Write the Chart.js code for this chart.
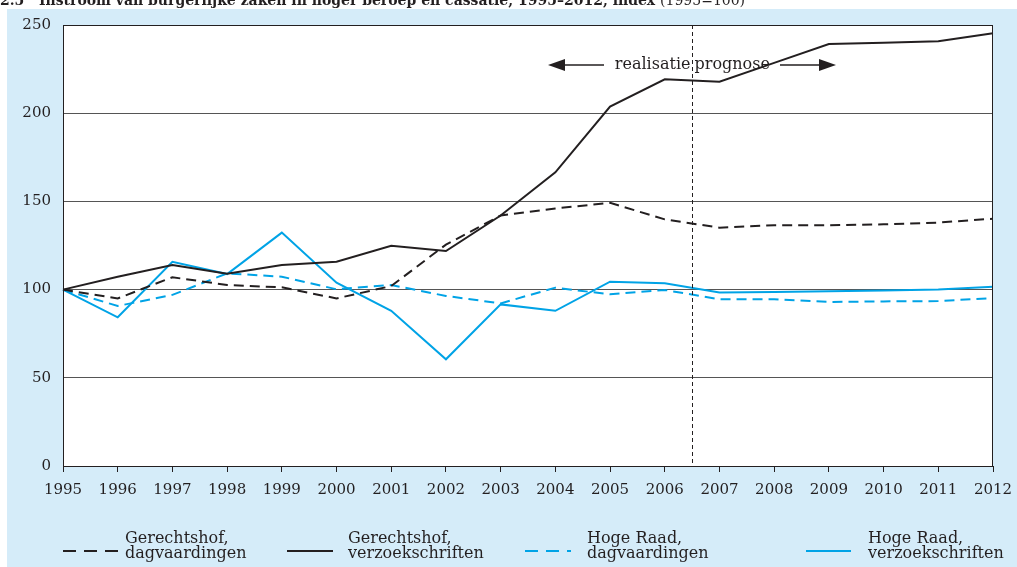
<!DOCTYPE html>
<html><head><meta charset="utf-8">
<script src="https://cdn.jsdelivr.net/npm/chart.js@4/dist/chart.umd.min.js"></script>
<style>html,body{margin:0;padding:0;background:#fff;}#wrap{width:1017px;height:567px;}</style>
</head><body><div id="wrap"><canvas id="c" width="1017" height="567"></canvas></div>
<script>
const years = ['1995','1996','1997','1998','1999','2000','2001','2002','2003','2004','2005','2006','2007','2008','2009','2010','2011','2012'];
const ghDagvaardingen = [100,95,107,102.6,101.3,95,102,125.5,142,146,149.2,139.8,135.1,136.5,136.5,137,138,140.2];
const ghVerzoekschriften = [100,107.3,114,109,114,115.8,124.9,121.9,142,166.5,203.7,219.2,217.9,228.5,239.2,240,240.8,245.3];
const hrDagvaardingen = [100,90.7,97,109.2,107.3,100.2,102.6,96.4,92.2,101.1,97.3,99.8,94.5,94.5,93,93.3,93.5,95.2];
const hrVerzoekschriften = [100,84.3,115.8,108.8,132.3,103.9,88,60.5,91.6,88,104.5,103.6,98.3,98.7,99,99.5,100,101.6];
const seriesLabels = [['Gerechtshof,','dagvaardingen'],['Gerechtshof,','verzoekschriften'],['Hoge Raad,','dagvaardingen'],['Hoge Raad,','verzoekschriften']];
const yTicks = [0,50,100,150,200,250];
const titleBold = '2.5   Instroom van burgerlijke zaken in hoger beroep en cassatie, 1995–2012, index ';
const titleNormal = '(1995=100)';
const annLeft = 'realisatie';
const annRight = 'prognose';

const BLACK = '#231f20', BLUE = '#00a3e6', BG = '#d5ecf9';
const FONT = '"DejaVu Serif", serif';

const bgPlugin = {
  id: 'bg',
  beforeDraw(chart) {
    const ctx = chart.ctx, a = chart.chartArea;
    ctx.save();
    ctx.fillStyle = '#fff'; ctx.fillRect(0,0,chart.width,chart.height);
    ctx.fillStyle = BG; ctx.fillRect(7,9,chart.width-7,chart.height-9);
    ctx.fillStyle = '#fff'; ctx.fillRect(a.left,a.top,a.right-a.left,a.bottom-a.top);
    ctx.fillStyle = BLACK; ctx.textBaseline = 'alphabetic';
    ctx.font = 'bold 14px ' + FONT;
    ctx.fillText(titleBold, 0, 5);
    const w = ctx.measureText(titleBold).width;
    ctx.font = '14px ' + FONT;
    ctx.fillText(titleNormal, w, 5);
    ctx.restore();
  },
  afterDraw(chart) {
    const ctx = chart.ctx, a = chart.chartArea, xs = chart.scales.x;
    ctx.save();
    ctx.strokeStyle = BLACK; ctx.lineWidth = 1;
    ctx.strokeRect(a.left+0.5, a.top+0.5, a.right-a.left-1, a.bottom-a.top);
    const xd = Math.round((xs.getPixelForValue(11) + xs.getPixelForValue(12)) / 2) + 0.5;
    ctx.setLineDash([4,3]);
    ctx.beginPath(); ctx.moveTo(xd, a.top); ctx.lineTo(xd, a.bottom); ctx.stroke();
    ctx.setLineDash([]);
    const ya = 65;
    ctx.font = '16px ' + FONT; ctx.fillStyle = BLACK; ctx.textBaseline = 'middle';
    ctx.textAlign = 'right'; ctx.fillText(annLeft, xd - 2, ya);
    ctx.textAlign = 'left'; ctx.fillText(annRight, xd + 2, ya);
    ctx.lineWidth = 1.3;
    ctx.beginPath(); ctx.moveTo(560, ya); ctx.lineTo(604, ya); ctx.stroke();
    ctx.beginPath(); ctx.moveTo(548, ya); ctx.lineTo(565, ya-6); ctx.lineTo(565, ya+6); ctx.closePath(); ctx.fill();
    ctx.beginPath(); ctx.moveTo(780, ya); ctx.lineTo(825, ya); ctx.stroke();
    ctx.beginPath(); ctx.moveTo(836, ya); ctx.lineTo(819, ya-6); ctx.lineTo(819, ya+6); ctx.closePath(); ctx.fill();
    const items = [
      {sx:63, ex:121, tx:125},
      {sx:287, ex:333, tx:348},
      {sx:525, ex:571, tx:587},
      {sx:806, ex:851, tx:868}
    ];
    chart.data.datasets.forEach((ds, i) => {
      const it = items[i];
      ctx.strokeStyle = ds.borderColor; ctx.lineWidth = 2.2;
      ctx.setLineDash(ds.borderDash ? [13,8] : []);
      ctx.beginPath(); ctx.moveTo(it.sx, 551); ctx.lineTo(it.ex, 551); ctx.stroke();
      ctx.setLineDash([]);
      ctx.fillStyle = BLACK; ctx.font = '16px ' + FONT; ctx.textAlign = 'left'; ctx.textBaseline = 'alphabetic';
      ctx.fillText(ds.label[0], it.tx, 543);
      ctx.fillText(ds.label[1], it.tx, 558);
    });
    ctx.restore();
  }
};

new Chart(document.getElementById('c'), {
  type: 'line',
  data: {
    labels: years,
    datasets: [
      {label: seriesLabels[0], data: ghDagvaardingen, borderColor: BLACK, borderDash: [10,6], borderWidth: 2},
      {label: seriesLabels[1], data: ghVerzoekschriften, borderColor: BLACK, borderWidth: 2},
      {label: seriesLabels[2], data: hrDagvaardingen, borderColor: BLUE, borderDash: [10,6], borderWidth: 2},
      {label: seriesLabels[3], data: hrVerzoekschriften, borderColor: BLUE, borderWidth: 2}
    ]
  },
  options: {
    responsive: false, animation: false,
    devicePixelRatio: 1,
    layout: {padding: {left: 7, right: 24, top: 25, bottom: 66}},
    elements: {point: {radius: 0}, line: {tension: 0}},
    plugins: {legend: {display: false}, tooltip: {enabled: false}},
    scales: {
      x: {
        offset: false,
        grid: {display: true, drawOnChartArea: false, drawTicks: true, tickLength: 6, color: BLACK},
        border: {display: false},
        ticks: {color: BLACK, font: {family: FONT, size: 15}, padding: 9, maxRotation: 0, autoSkip: false},
        afterFit(s) { s.height = 35; s.paddingLeft = 0; s.paddingRight = 0; }
      },
      y: {
        min: 0, max: 250,
        afterBuildTicks(s) { s.ticks = yTicks.map(v => ({value: v})); },
        grid: {color: '#555555', lineWidth: 1, drawTicks: false},
        border: {display: false},
        ticks: {color: BLACK, font: {family: FONT, size: 15}, padding: 12},
        afterFit(s) { s.width = 56; s.paddingTop = 0; s.paddingBottom = 0; }
      }
    }
  },
  plugins: [bgPlugin]
});
</script>
</body></html>
